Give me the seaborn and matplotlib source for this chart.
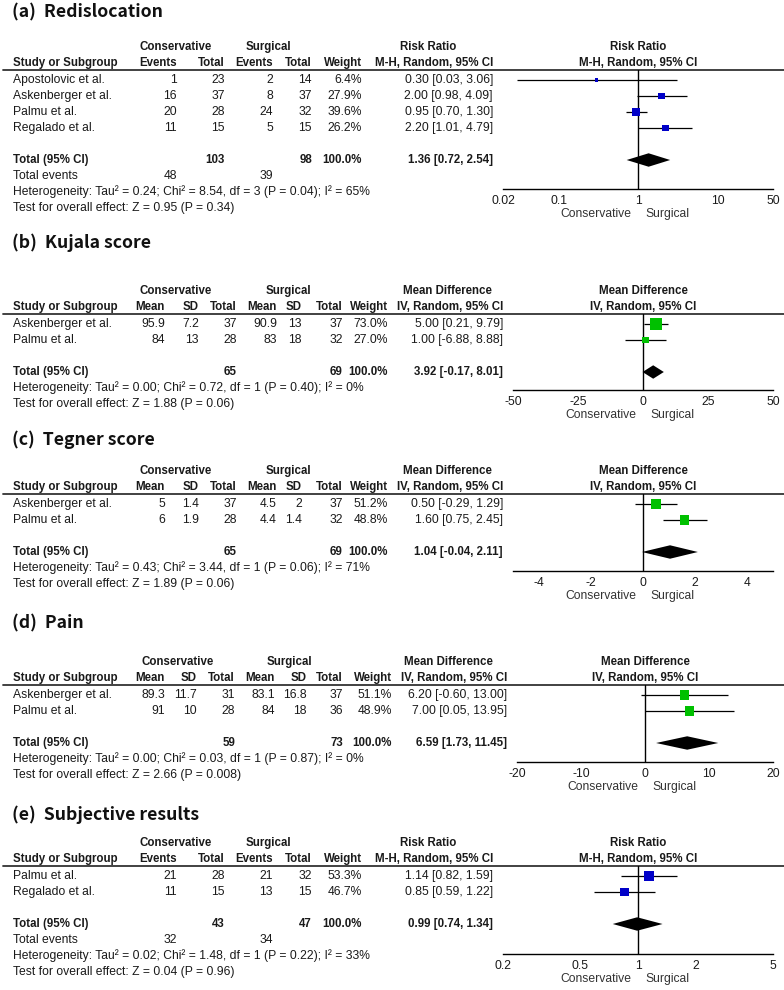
import matplotlib
matplotlib.use('Agg')
import matplotlib.pyplot as plt
from matplotlib.patches import Polygon
from matplotlib.ticker import FixedLocator, FixedFormatter, NullLocator
import seaborn as sns
import pandas as pd

sns.set_style('white')
plt.rcParams['font.family'] = ['Liberation Sans', 'DejaVu Sans']

# ---------------- data ----------------
# (a) Redislocation - risk ratio
a_study = ['Apostolovic et al.', 'Askenberger et al.', 'Palmu et al.', 'Regalado et al.']
a_cons_events = [1, 16, 20, 11]
a_cons_total = [23, 37, 28, 15]
a_surg_events = [2, 8, 24, 5]
a_surg_total = [14, 37, 32, 15]
a_weight = [6.4, 27.9, 39.6, 26.2]
a_est = [0.30, 2.00, 0.95, 2.20]
a_lo = [0.03, 0.98, 0.70, 1.01]
a_hi = [3.06, 4.09, 1.30, 4.79]
a_pooled = [1.36, 0.72, 2.54]
a_n = [103, 98]
a_events = [48, 39]
a_het = 'Heterogeneity: Tau² = 0.24; Chi² = 8.54, df = 3 (P = 0.04); I² = 65%'
a_test = 'Test for overall effect: Z = 0.95 (P = 0.34)'
a_ticks = [0.02, 0.1, 1, 10, 50]
a_ticklabels = ['0.02', '0.1', '1', '10', '50']

# (b) Kujala score - mean difference
b_study = ['Askenberger et al.', 'Palmu et al.']
b_cons_mean = [95.9, 84]
b_cons_sd = [7.2, 13]
b_cons_total = [37, 28]
b_surg_mean = [90.9, 83]
b_surg_sd = [13, 18]
b_surg_total = [37, 32]
b_weight = [73.0, 27.0]
b_est = [5.00, 1.00]
b_lo = [0.21, -6.88]
b_hi = [9.79, 8.88]
b_pooled = [3.92, -0.17, 8.01]
b_n = [65, 69]
b_het = 'Heterogeneity: Tau² = 0.00; Chi² = 0.72, df = 1 (P = 0.40); I² = 0%'
b_test = 'Test for overall effect: Z = 1.88 (P = 0.06)'
b_ticks = [-50, -25, 0, 25, 50]
b_ticklabels = ['-50', '-25', '0', '25', '50']

# (c) Tegner score - mean difference
c_study = ['Askenberger et al.', 'Palmu et al.']
c_cons_mean = [5, 6]
c_cons_sd = [1.4, 1.9]
c_cons_total = [37, 28]
c_surg_mean = [4.5, 4.4]
c_surg_sd = [2, 1.4]
c_surg_total = [37, 32]
c_weight = [51.2, 48.8]
c_est = [0.50, 1.60]
c_lo = [-0.29, 0.75]
c_hi = [1.29, 2.45]
c_pooled = [1.04, -0.04, 2.11]
c_n = [65, 69]
c_het = 'Heterogeneity: Tau² = 0.43; Chi² = 3.44, df = 1 (P = 0.06); I² = 71%'
c_test = 'Test for overall effect: Z = 1.89 (P = 0.06)'
c_ticks = [-4, -2, 0, 2, 4]
c_ticklabels = ['-4', '-2', '0', '2', '4']

# (d) Pain - mean difference
d_study = ['Askenberger et al.', 'Palmu et al.']
d_cons_mean = [89.3, 91]
d_cons_sd = [11.7, 10]
d_cons_total = [31, 28]
d_surg_mean = [83.1, 84]
d_surg_sd = [16.8, 18]
d_surg_total = [37, 36]
d_weight = [51.1, 48.9]
d_est = [6.20, 7.00]
d_lo = [-0.60, 0.05]
d_hi = [13.00, 13.95]
d_pooled = [6.59, 1.73, 11.45]
d_n = [59, 73]
d_het = 'Heterogeneity: Tau² = 0.00; Chi² = 0.03, df = 1 (P = 0.87); I² = 0%'
d_test = 'Test for overall effect: Z = 2.66 (P = 0.008)'
d_ticks = [-20, -10, 0, 10, 20]
d_ticklabels = ['-20', '-10', '0', '10', '20']

# (e) Subjective results - risk ratio
e_study = ['Palmu et al.', 'Regalado et al.']
e_cons_events = [21, 11]
e_cons_total = [28, 15]
e_surg_events = [21, 13]
e_surg_total = [32, 15]
e_weight = [53.3, 46.7]
e_est = [1.14, 0.85]
e_lo = [0.82, 0.59]
e_hi = [1.59, 1.22]
e_pooled = [0.99, 0.74, 1.34]
e_n = [43, 47]
e_events = [32, 34]
e_het = 'Heterogeneity: Tau² = 0.02; Chi² = 1.48, df = 1 (P = 0.22); I² = 33%'
e_test = 'Test for overall effect: Z = 0.04 (P = 0.96)'
e_ticks = [0.2, 0.5, 1, 2, 5]
e_ticklabels = ['0.2', '0.5', '1', '2', '5']

# ---------------- layout (pixels) ----------------
W, H = 784, 990
FS = 8.7
FSB = 8.3
INK = '#1a1a1a'
BLUE = '#0000c8'
GREEN = '#00c000'

geo_a = dict(title=12, line=70, axis=189, x0=503, x1=773)
geo_b = dict(title=243, line=314, axis=390, x0=513, x1=773)
geo_c = dict(title=440, line=494, axis=571, x0=513, x1=773)
geo_d = dict(title=623, line=685, axis=762, x0=517, x1=773)
geo_e = dict(title=815, line=866, axis=954, x0=503, x1=773)

rr_groups = [('Conservative', 176), ('Surgical', 268), ('Risk Ratio', 428)]
rr_heads = ['Events', 'Total', 'Events', 'Total', 'Weight', 'M-H, Random, 95% CI']
rr_cols = [177, 225, 273, 312, 362, 493]
md_groups = [('Conservative', 176), ('Surgical', 288), ('Mean Difference', 447)]
md_heads = ['Mean', 'SD', 'Total', 'Mean', 'SD', 'Total', 'Weight', 'IV, Random, 95% CI']
md_cols = [165, 199, 237, 277, 302, 343, 388, 503]
md_groups_d = [('Conservative', 178), ('Surgical', 289), ('Mean Difference', 448)]
md_cols_d = [165, 197, 235, 275, 307, 343, 392, 507]

fig = plt.figure(figsize=(W / 100, H / 100), dpi=100)
bg = fig.add_axes([0, 0, 1, 1])
bg.set_xlim(0, W)
bg.set_ylim(H, 0)
bg.axis('off')


def put(x, y, s, ha='right', bold=False):
    bg.text(x, y, s, ha=ha, va='center', fontsize=FSB if bold else FS, color=INK,
            fontweight='bold' if bold else 'normal')


def fmt(v):
    return f'{v:g}'


def ci_text(e, l, h):
    return f'{e:.2f} [{l:.2f}, {h:.2f}]'


def row_y(g, i):
    return g['line'] + 10 + 16 * i


def draw_table(g, title, groups, heads, cols, study, cells, total_cells, events_cells, het, test):
    bg.text(12, g['title'], title, ha='left', va='center', fontsize=12.7, fontweight='bold',
            color='#111111', family=['Noto Sans CJK KR', 'DejaVu Sans'])
    h1, h2 = g['line'] - 23, g['line'] - 7
    for lab, xc in groups:
        bg.text(xc, h1, lab, ha='center', va='center', fontsize=FSB, color=INK, fontweight='bold')
    put(13, h2, 'Study or Subgroup', ha='left', bold=True)
    for lab, x in zip(heads, cols):
        put(x, h2, lab, bold=True)
    bg.plot([3, W], [g['line'], g['line']], color='#333333', lw=1.3)
    for i, (name, vals) in enumerate(zip(study, cells)):
        put(13, row_y(g, i), name, ha='left')
        for v, x in zip(vals, cols):
            put(x, row_y(g, i), v)
    n = len(study)
    r = n + 1
    put(13, row_y(g, r), 'Total (95% CI)', ha='left', bold=True)
    for k, v in total_cells.items():
        put(cols[k], row_y(g, r), v, bold=True)
    if events_cells:
        r += 1
        put(13, row_y(g, r), 'Total events', ha='left')
        for k, v in events_cells.items():
            put(cols[k], row_y(g, r), v)
    put(13, row_y(g, r + 1), het, ha='left')
    put(13, row_y(g, r + 2), test, ha='left')


def draw_forest(g, head1, head2, est, lo, hi, weight, pooled, ref, log, xlim,
                ticks, ticklabels, color):
    line, axis = g['line'], g['axis']
    ax = fig.add_axes([g['x0'] / W, 1 - axis / H, (g['x1'] - g['x0']) / W, (axis - line) / H])
    ax.patch.set_visible(False)
    n = len(est)
    df = pd.DataFrame({'est': est, 'row': list(range(n)), 'weight': weight})
    # square side (px) grows with the square root of the study weight
    sizes = [(max(3.0, 1.3 * w ** 0.5) * 0.72) ** 2 for w in weight]
    ax.hlines(df['row'], lo, hi, color='black', lw=0.9, zorder=2)
    sns.scatterplot(data=df, x='est', y='row', marker='s', s=sizes, color=color,
                    linewidth=0, legend=False, ax=ax, zorder=3)
    r = n + 1
    e, l, h = pooled
    ax.add_patch(Polygon([(l, r), (e, r - 0.42), (h, r), (e, r + 0.42)], closed=True,
                         facecolor='black', edgecolor='none', zorder=3))
    if log:
        ax.set_xscale('log')
    ax.set_xlim(*xlim)
    ax.set_ylim((axis - line - 10) / 16, -10 / 16)
    ax.axvline(ref, color='black', lw=1, zorder=1)
    for s in ['left', 'right', 'top']:
        ax.spines[s].set_visible(False)
    ax.spines['bottom'].set_color('black')
    ax.spines['bottom'].set_linewidth(1)
    ax.xaxis.set_major_locator(FixedLocator(ticks))
    ax.xaxis.set_major_formatter(FixedFormatter(ticklabels))
    ax.xaxis.set_minor_locator(NullLocator())
    ax.set_yticks([])
    ax.set_xlabel('')
    ax.set_ylabel('')
    ax.tick_params(axis='x', direction='inout', length=6, width=1, color='black',
                   labelsize=FS, labelcolor=INK, pad=1)
    ax.annotate(head1, xy=(ref, 1), xycoords=('data', 'axes fraction'), xytext=(0, 16.6),
                textcoords='offset points', ha='center', va='center', fontsize=FSB,
                fontweight='bold', color=INK)
    ax.annotate(head2, xy=(ref, 1), xycoords=('data', 'axes fraction'), xytext=(0, 5),
                textcoords='offset points', ha='center', va='center', fontsize=FSB,
                fontweight='bold', color=INK)
    ax.annotate('Conservative', xy=(ref, 0), xycoords=('data', 'axes fraction'),
                xytext=(-4.5, -18), textcoords='offset points', ha='right', va='center',
                fontsize=FS, color='#333333')
    ax.annotate('Surgical', xy=(ref, 0), xycoords=('data', 'axes fraction'),
                xytext=(5, -18), textcoords='offset points', ha='left', va='center',
                fontsize=FS, color='#333333')
    return ax


def rr_cells(ce, ct, se, st, w, est, lo, hi):
    return [[fmt(a), fmt(b), fmt(c), fmt(d), f'{x:.1f}%', ci_text(e, l, h)]
            for a, b, c, d, x, e, l, h in zip(ce, ct, se, st, w, est, lo, hi)]


def md_cells(cm, cs, ct, sm, ss, st, w, est, lo, hi):
    return [[fmt(a), fmt(b), fmt(c), fmt(d), fmt(f), fmt(t), f'{x:.1f}%', ci_text(e, l, h)]
            for a, b, c, d, f, t, x, e, l, h in zip(cm, cs, ct, sm, ss, st, w, est, lo, hi)]


# (a)
draw_table(geo_a, '(a)  Redislocation', rr_groups, rr_heads, rr_cols, a_study,
           rr_cells(a_cons_events, a_cons_total, a_surg_events, a_surg_total, a_weight, a_est, a_lo, a_hi),
           {1: fmt(a_n[0]), 3: fmt(a_n[1]), 4: '100.0%', 5: ci_text(*a_pooled)},
           {0: fmt(a_events[0]), 2: fmt(a_events[1])}, a_het, a_test)
draw_forest(geo_a, 'Risk Ratio', 'M-H, Random, 95% CI', a_est, a_lo, a_hi, a_weight, a_pooled,
            1, True, (0.02, 50), a_ticks, a_ticklabels, BLUE)

# (b)
draw_table(geo_b, '(b)  Kujala score', md_groups, md_heads, md_cols, b_study,
           md_cells(b_cons_mean, b_cons_sd, b_cons_total, b_surg_mean, b_surg_sd, b_surg_total,
                    b_weight, b_est, b_lo, b_hi),
           {2: fmt(b_n[0]), 5: fmt(b_n[1]), 6: '100.0%', 7: ci_text(*b_pooled)},
           None, b_het, b_test)
draw_forest(geo_b, 'Mean Difference', 'IV, Random, 95% CI', b_est, b_lo, b_hi, b_weight, b_pooled,
            0, False, (-50, 50), b_ticks, b_ticklabels, GREEN)

# (c)
draw_table(geo_c, '(c)  Tegner score', md_groups, md_heads, md_cols, c_study,
           md_cells(c_cons_mean, c_cons_sd, c_cons_total, c_surg_mean, c_surg_sd, c_surg_total,
                    c_weight, c_est, c_lo, c_hi),
           {2: fmt(c_n[0]), 5: fmt(c_n[1]), 6: '100.0%', 7: ci_text(*c_pooled)},
           None, c_het, c_test)
draw_forest(geo_c, 'Mean Difference', 'IV, Random, 95% CI', c_est, c_lo, c_hi, c_weight, c_pooled,
            0, False, (-5, 5), c_ticks, c_ticklabels, GREEN)

# (d)
draw_table(geo_d, '(d)  Pain', md_groups_d, md_heads, md_cols_d, d_study,
           md_cells(d_cons_mean, d_cons_sd, d_cons_total, d_surg_mean, d_surg_sd, d_surg_total,
                    d_weight, d_est, d_lo, d_hi),
           {2: fmt(d_n[0]), 5: fmt(d_n[1]), 6: '100.0%', 7: ci_text(*d_pooled)},
           None, d_het, d_test)
draw_forest(geo_d, 'Mean Difference', 'IV, Random, 95% CI', d_est, d_lo, d_hi, d_weight, d_pooled,
            0, False, (-20, 20), d_ticks, d_ticklabels, GREEN)

# (e)
draw_table(geo_e, '(e)  Subjective results', rr_groups, rr_heads, rr_cols, e_study,
           rr_cells(e_cons_events, e_cons_total, e_surg_events, e_surg_total, e_weight, e_est, e_lo, e_hi),
           {1: fmt(e_n[0]), 3: fmt(e_n[1]), 4: '100.0%', 5: ci_text(*e_pooled)},
           {0: fmt(e_events[0]), 2: fmt(e_events[1])}, e_het, e_test)
draw_forest(geo_e, 'Risk Ratio', 'M-H, Random, 95% CI', e_est, e_lo, e_hi, e_weight, e_pooled,
            1, True, (0.2, 5), e_ticks, e_ticklabels, BLUE)

fig.savefig('out.png', dpi=100)
